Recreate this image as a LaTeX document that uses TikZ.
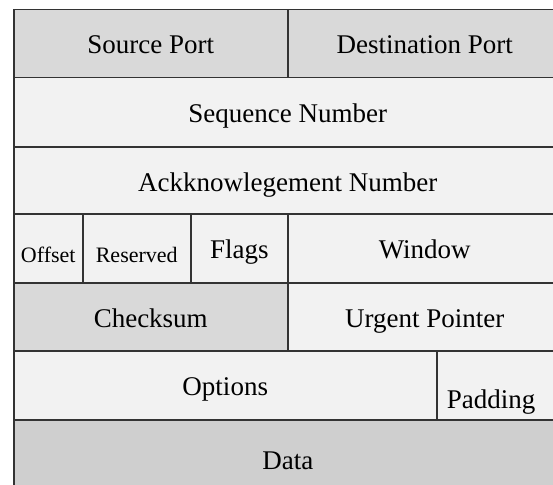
\documentclass[tikz,border=0pt]{standalone}
\usepackage{fontspec}
\setmainfont{Liberation Serif}
\definecolor{darkcell}{HTML}{D9D9D9}
\definecolor{lightcell}{HTML}{F2F2F2}
\definecolor{datacell}{HTML}{CFCFCF}
\begin{document}
\begin{tikzpicture}[x=1pt, y=-1pt,
    cell/.style={draw=black!80, line width=1.5pt, anchor=north west, inner sep=0pt,
        minimum height=68.5pt, text height=35pt, text depth=15pt,
        font=\fontsize{27}{31}\selectfont},
    small/.style={font=\fontsize{22}{26}\selectfont, text height=40pt, text depth=11pt}]
        \useasboundingbox (0,0) rectangle (553,484);
        \clip (0,0) rectangle (553,484);

        \node[cell, fill=darkcell, minimum width=274pt] (srcport) at (13,9) {Source Port};
        \node[cell, fill=darkcell, minimum width=274pt] (dstport) at (287,9) {Destination Port};

        \node[cell, fill=lightcell, minimum width=548pt] (seqnum) at (13,77) {Sequence Number};
        \node[cell, fill=lightcell, minimum width=548pt] (acknum) at (13,146) {Ackknowlegement Number};

        \node[cell, small, fill=lightcell, minimum width=69pt] (offset) at (13,213) {Offset};
        \node[cell, small, fill=lightcell, minimum width=108pt] (reserved) at (82,213) {Reserved};
        \node[cell, fill=lightcell, minimum width=97pt] (flags) at (190,213) {Flags};
        \node[cell, fill=lightcell, minimum width=274pt] (window) at (287,213) {Window};

        \node[cell, fill=darkcell, minimum width=274pt] (checksum) at (13,282) {Checksum};
        \node[cell, fill=lightcell, minimum width=274pt] (urgent) at (287,282) {Urgent Pointer};

        \node[cell, fill=lightcell, minimum width=423pt] (options) at (13,350) {Options};
        \node[cell, fill=lightcell, minimum width=125pt, text width=105pt, align=left,
            text height=57pt, text depth=10pt] (padding) at (436,350) {Padding};

        \node[cell, fill=datacell, minimum width=548pt, minimum height=80pt] (data) at (13,419) {Data};
    \end{tikzpicture}
\end{document}
